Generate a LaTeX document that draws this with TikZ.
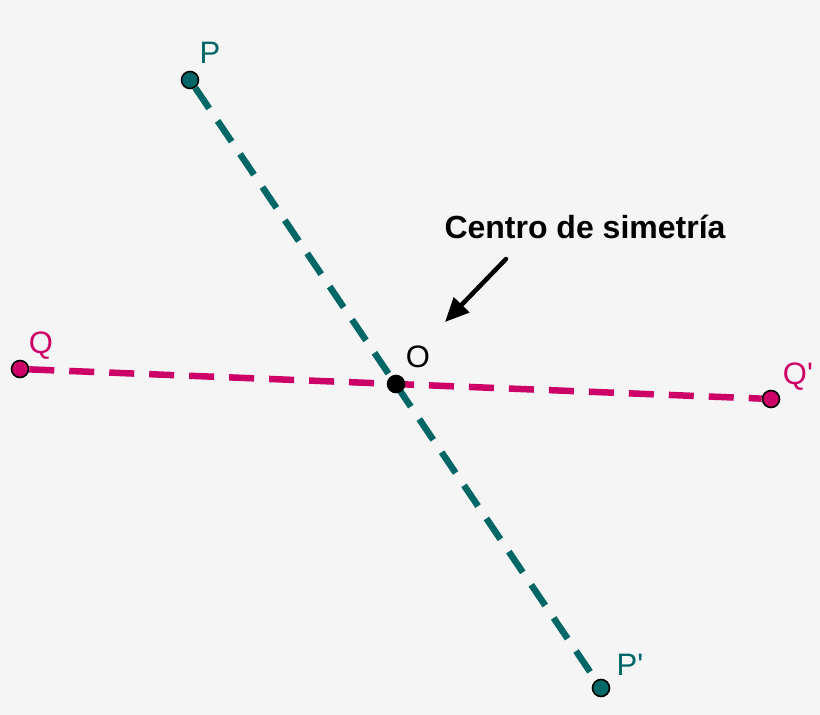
\documentclass[tikz,border=0pt]{standalone}
\usepackage{fontspec}
\setmainfont{Liberation Sans}[Ligatures=TeXOff]
\usetikzlibrary{arrows.meta}
\definecolor{bg}{HTML}{F5F5F5}
\definecolor{teal1}{HTML}{006666}
\definecolor{mag1}{HTML}{CC0066}
\tikzset{
  pt/.style={circle,draw=black,line width=1.6pt,minimum size=17pt,inner sep=0pt},
  seg/.style={line width=6.5pt,dash pattern=on 25pt off 15pt},
  lbl/.style={font=\fontsize{31}{34}\selectfont,inner sep=0pt,anchor=base}
}
\begin{document}
\begin{tikzpicture}[x=1pt,y=-1pt]
\fill[bg] (0,0) rectangle (820,715);
\useasboundingbox (0,0) rectangle (820,715);
\node[pt,fill=teal1] (P) at (190,80) {};
\node[pt,fill=teal1] (Pp) at (601,688) {};
\node[pt,fill=mag1] (Q) at (20,369) {};
\node[pt,fill=mag1] (Qp) at (771,399) {};
\draw[seg,teal1] (P) -- (Pp);
\draw[seg,mag1] (Q) -- (Qp);
\node[pt,fill=black] (O) at (396,384) {};
\node[lbl,text=teal1] (lP) at (210,63) {P};
\node[lbl,text=teal1] (lPp) at (630,675) {P'};
\node[lbl,text=mag1] (lQ) at (41,353) {Q};
\node[lbl,text=mag1] (lQp) at (798,384) {Q'};
\node[lbl,text=black] (lO) at (418,367) {O};
\node[font=\bfseries\fontsize{32}{36}\selectfont,inner sep=0pt] (title) at (585,227) {Centro de simetría};
\coordinate (as) at (506,259);
\coordinate (ae) at (445,322);
\draw[line width=4.5pt,line cap=round,-{Triangle[length=24pt,width=21pt]}] (as) -- (ae);
\end{tikzpicture}
\end{document}
